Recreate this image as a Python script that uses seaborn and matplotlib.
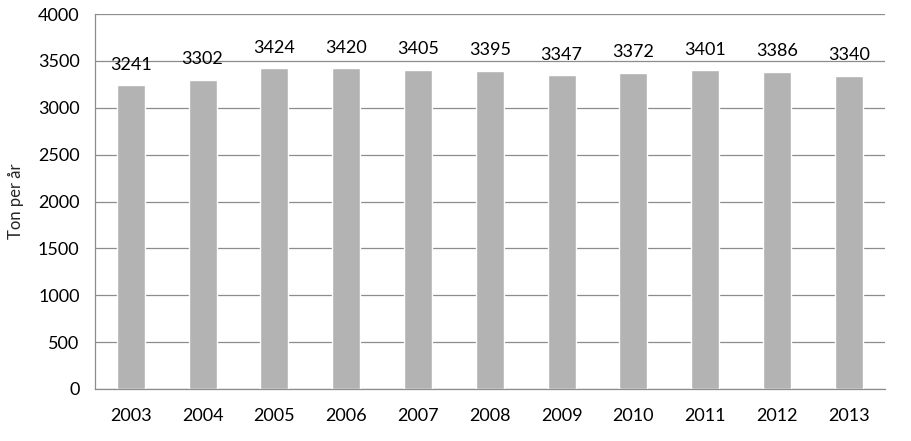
import pandas as pd
import matplotlib.pyplot as plt
import seaborn as sns

years = ["2003", "2004", "2005", "2006", "2007", "2008", "2009", "2010", "2011", "2012", "2013"]
tons = [3241, 3302, 3424, 3420, 3405, 3395, 3347, 3372, 3401, 3386, 3340]
y_ticks = [0, 500, 1000, 1500, 2000, 2500, 3000, 3500, 4000]


def make_chart():
    df = pd.DataFrame({"year": years, "tons": tons})
    sns.set_style("white")
    plt.rcParams["font.family"] = ["Lato", "DejaVu Sans"]

    fig = plt.figure(figsize=(9.12, 4.41), dpi=100)
    ax = fig.add_axes([0.104, 0.118, 0.866, 0.850])
    sns.barplot(x="year", y="tons", data=df, color="#B3B3B3", width=0.39,
                saturation=1, ax=ax, zorder=3)
    ax.bar_label(ax.containers[0], labels=[str(v) for v in tons],
                 padding=9, fontsize=13, color="black")

    ax.set_ylim(0, 4000)
    ax.set_yticks(y_ticks)
    ax.set_xlim(-0.5, len(years) - 0.5)
    ax.yaxis.grid(True, color="#8C8C8C", linewidth=0.9, zorder=0)
    ax.set_axisbelow(True)
    for side in ["top", "right"]:
        ax.spines[side].set_visible(False)
    for side in ["left", "bottom"]:
        ax.spines[side].set_color("#8C8C8C")
        ax.spines[side].set_linewidth(0.9)
    ax.tick_params(axis="both", length=0, labelsize=13, colors="black")
    ax.tick_params(axis="x", pad=14)
    ax.tick_params(axis="y", pad=11)
    ax.set_xlabel("")
    ax.set_ylabel("Ton per år", fontsize=12, labelpad=10)

    fig.savefig("out.png", dpi=100)


if __name__ == "__main__":
    make_chart()
